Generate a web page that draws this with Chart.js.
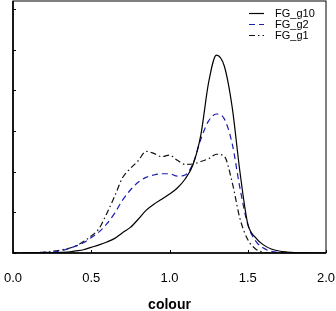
<!DOCTYPE html>
<html>
<head>
<meta charset="utf-8">
<script src="https://cdn.jsdelivr.net/npm/chart.js"></script>
<style>
  html, body { margin: 0; padding: 0; background: #ffffff; }
  #wrap { width: 336px; height: 311px; }
</style>
</head>
<body>
<div id="wrap"><canvas id="densityChart" width="336" height="311"></canvas></div>
<script>
// colour grid (x) and density values
const colour = [0.00, 0.05, 0.10, 0.15, 0.20, 0.25, 0.30, 0.35, 0.40, 0.45,
                0.50, 0.55, 0.60, 0.65, 0.70, 0.75, 0.80, 0.85, 0.90, 0.95,
                1.00, 1.05, 1.10, 1.15, 1.20, 1.25, 1.30, 1.35, 1.40, 1.45,
                1.50, 1.55, 1.60, 1.65, 1.70, 1.75, 1.80, 1.85, 1.90, 1.95, 2.00];

const fgG10 = [0, 0, 0, 0.005, 0.01, 0.01, 0.015, 0.02, 0.05, 0.08,
               0.14, 0.2, 0.27, 0.36, 0.5, 0.63, 0.83, 1.05, 1.2, 1.32,
               1.45, 1.6, 1.82, 2.17, 2.9, 4.2, 4.87, 4.6, 3.6, 2.0,
               0.72, 0.38, 0.2, 0.1, 0.05, 0.025, 0.01, 0.005, 0, 0, 0];

const fgG2 = [0, 0, 0.005, 0.01, 0.015, 0.02, 0.05, 0.1, 0.17, 0.25,
              0.38, 0.52, 0.72, 0.98, 1.3, 1.55, 1.74, 1.86, 1.92, 1.95,
              1.95, 1.89, 1.92, 2.2, 2.8, 3.25, 3.42, 3.3, 2.7, 1.6,
              0.7, 0.3, 0.12, 0.04, 0.01, 0, 0, 0, 0, 0, 0];

const fgG1 = [0, 0, 0.005, 0.01, 0.02, 0.04, 0.07, 0.11, 0.17, 0.28,
              0.42, 0.6, 0.98, 1.4, 1.85, 2.08, 2.27, 2.5, 2.45, 2.37,
              2.41, 2.28, 2.18, 2.19, 2.25, 2.32, 2.43, 2.38, 1.75, 0.85,
              0.33, 0.1, 0.02, 0, 0, 0, 0, 0, 0, 0, 0];

const xTickValues = [0, 0.5, 1.0, 1.5, 2.0];
const yTickValues = [0, 1, 2, 3, 4, 5, 6];

const FONT = "'Liberation Sans', Arial, Helvetica, sans-serif";

function toPoints(ys) {
    return colour.map((c, i) => ({ x: c, y: ys[i] }));
}

// box around the plot + small inward tick marks
const framePlugin = {
    id: 'frame',
    afterDraw(chart) {
        const { ctx, chartArea: a, scales } = chart;
        ctx.save();
        ctx.strokeStyle = '#000000';
        ctx.lineWidth = 1;
        ctx.strokeRect(a.left, a.top, a.right - a.left, a.bottom - a.top);
        ctx.lineWidth = 1.6;
        ctx.beginPath();
        ctx.moveTo(a.left, a.top);
        ctx.lineTo(a.left, a.bottom);
        ctx.lineTo(a.right, a.bottom);
        ctx.stroke();

        ctx.lineWidth = 1;
        ctx.beginPath();
        xTickValues.forEach(v => {
            const px = Math.round(scales.x.getPixelForValue(v)) + 0.5;
            ctx.moveTo(px, a.bottom);
            ctx.lineTo(px, a.bottom - 3);
        });
        yTickValues.forEach(v => {
            const py = Math.round(scales.y.getPixelForValue(v)) + 0.5;
            ctx.moveTo(a.left, py);
            ctx.lineTo(a.left + 3, py);
        });
        ctx.stroke();
        ctx.restore();
    }
};

// legend in the top right corner, inside the plot
const legendPlugin = {
    id: 'cornerLegend',
    afterDraw(chart) {
        const { ctx } = chart;
        ctx.save();
        ctx.font = '11px ' + FONT;
        ctx.textBaseline = 'middle';
        ctx.fillStyle = '#000000';
        chart.data.datasets.forEach((ds, i) => {
            const y = 13.5 + i * 11;
            ctx.strokeStyle = ds.borderColor;
            ctx.lineWidth = ds.borderWidth;
            ctx.setLineDash(ds.borderDash || []);
            ctx.beginPath();
            ctx.moveTo(249, y);
            ctx.lineTo(264, y);
            ctx.stroke();
            ctx.setLineDash([]);
            ctx.fillText(ds.label, 275, y);
        });
        ctx.restore();
    }
};

new Chart(document.getElementById('densityChart'), {
    type: 'line',
    data: {
        datasets: [
            {
                label: 'FG_g10',
                data: toPoints(fgG10),
                borderColor: '#000000',
                borderWidth: 1.2,
                pointRadius: 0,
                cubicInterpolationMode: 'monotone'
            },
            {
                label: 'FG_g2',
                data: toPoints(fgG2),
                borderColor: '#1c1cb4',
                borderWidth: 1.2,
                borderDash: [6, 4],
                pointRadius: 0,
                cubicInterpolationMode: 'monotone'
            },
            {
                label: 'FG_g1',
                data: toPoints(fgG1),
                borderColor: '#111111',
                borderWidth: 1.2,
                borderDash: [6, 3, 1.5, 3],
                pointRadius: 0,
                cubicInterpolationMode: 'monotone'
            }
        ]
    },
    options: {
        responsive: false,
        animation: false,
        layout: {
            padding: { left: 13, right: 10, top: 1, bottom: 0 }
        },
        plugins: {
            legend: { display: false },
            tooltip: { enabled: false }
        },
        scales: {
            x: {
                type: 'linear',
                min: 0,
                max: 2,
                grid: { display: false, drawTicks: false },
                border: { display: false },
                afterBuildTicks: scale => {
                    scale.ticks = xTickValues.map(v => ({ value: v }));
                },
                afterFit: scale => {
                    scale.height = 58;
                    scale.paddingLeft = 0;
                    scale.paddingRight = 0;
                },
                ticks: {
                    padding: 18,
                    color: '#000000',
                    font: { family: FONT, size: 13 },
                    maxRotation: 0,
                    callback: v => Number(v).toFixed(1)
                },
                title: {
                    display: true,
                    text: 'colour',
                    color: '#000000',
                    padding: { top: 0, bottom: 0 },
                    font: { family: FONT, size: 14, weight: 'bold', lineHeight: 0.9 }
                }
            },
            y: {
                display: false,
                min: 0,
                max: 6.2
            }
        }
    },
    plugins: [framePlugin, legendPlugin]
});
</script>
</body>
</html>
